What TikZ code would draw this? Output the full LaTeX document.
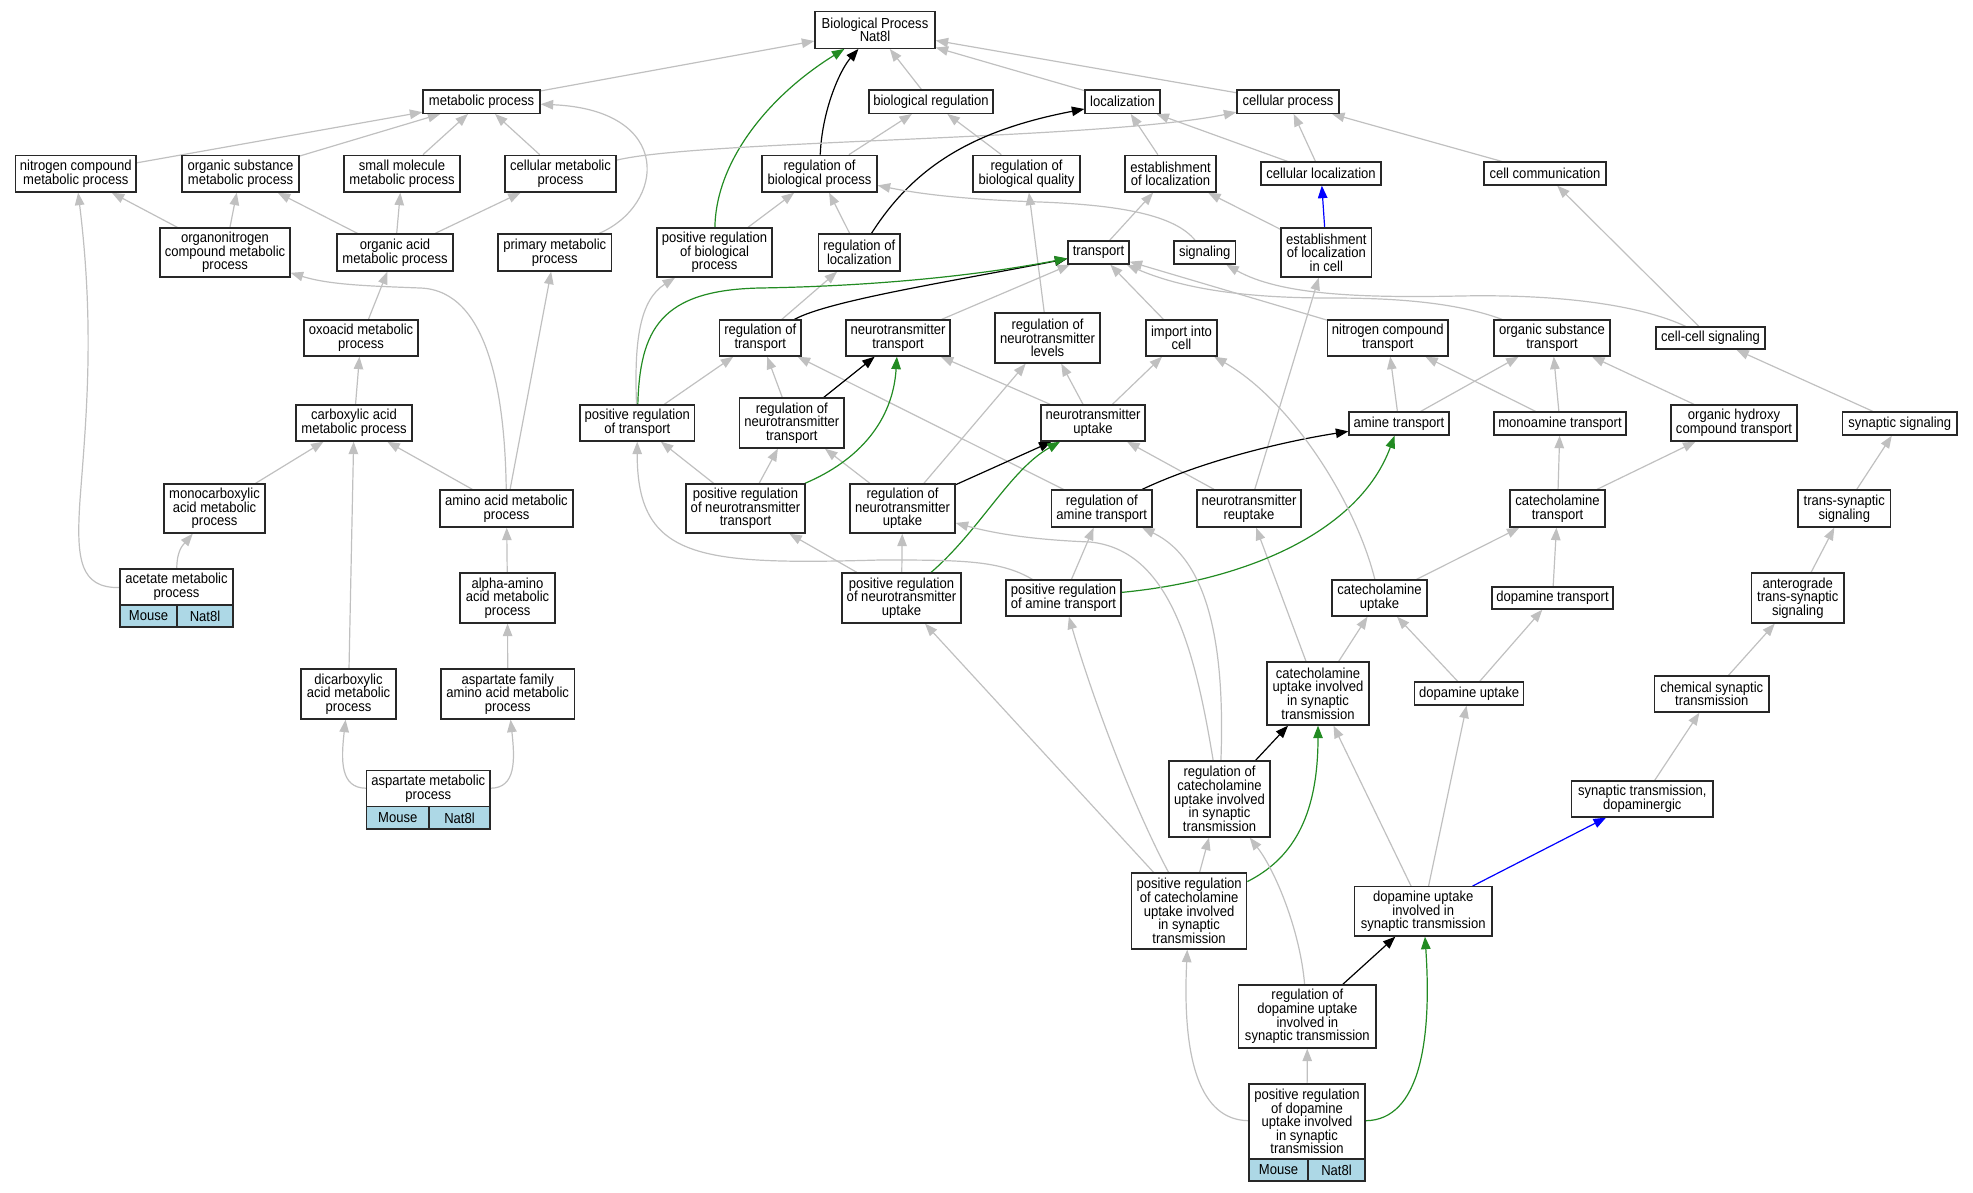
\documentclass[tikz,border=0pt]{standalone}
\usepackage{fontspec}
\setmainfont{Liberation Sans}[FakeStretch=0.9]
\usetikzlibrary{arrows.meta,backgrounds}
\definecolor{eg}{RGB}{192,192,192}
\definecolor{fg}{RGB}{34,139,34}
\definecolor{lb}{RGB}{173,216,230}
\definecolor{bd}{RGB}{40,40,40}
\newcommand\pbox[7]{%
 \pgfmathsetmacro\bxw{#5-#3}%
 \pgfmathsetmacro\bxh{#6-#4}%
 \pgfmathsetmacro\bxx{(#3+#5)/2}%
 \pgfmathsetmacro\bxy{(#4+#6)/2}%
 \node[#1,minimum width=\bxw pt,minimum height=\bxh pt] (#2) at (\bxx,\bxy) {#7};}
\tikzset{
 gbox/.style={draw=bd, line width=1.3pt, fill=white, inner sep=0pt, align=center, font=\fontsize{14.5}{13.6}\selectfont},
 mcell/.style={gbox, fill=lb},
 ar/.style={line width=1.2pt, -{Triangle[length=12.5pt,width=9.5pt]}},
 ge/.style={ar, draw=eg},
 ke/.style={ar, draw=black},
 gn/.style={ar, draw=fg},
 be/.style={ar, draw=blue},
}
\begin{document}
\begin{tikzpicture}[x=1pt,y=-1pt]
\useasboundingbox (0,0) rectangle (1973,1192);
\pbox{gbox}{BP}{815}{11.7}{935}{48.3}{Biological Process\\Nat8l}
\pbox{gbox}{meta}{423}{90}{540}{113.3}{metabolic process}
\pbox{gbox}{bioreg}{869}{90}{993}{113.3}{biological regulation}
\pbox{gbox}{loc}{1085}{90}{1160}{113.3}{localization}
\pbox{gbox}{cellproc}{1237}{90}{1339}{113.3}{cellular process}
\pbox{gbox}{ncmp}{15.6}{155.3}{136}{192}{nitrogen compound\\metabolic process}
\pbox{gbox}{osmp}{182}{155.3}{299}{192}{organic substance\\metabolic process}
\pbox{gbox}{smmp}{344}{155.3}{460}{192}{small molecule\\metabolic process}
\pbox{gbox}{cmp}{505}{155.3}{616}{192}{cellular metabolic\\process}
\pbox{gbox}{regbp}{762}{155.3}{877}{192}{regulation of\\biological process}
\pbox{gbox}{regbq}{973}{155.3}{1080}{192}{regulation of\\biological quality}
\pbox{gbox}{estloc}{1125}{155.3}{1216}{192}{establishment\\of localization}
\pbox{gbox}{cellloc}{1261}{162}{1381}{185}{cellular localization}
\pbox{gbox}{cellcomm}{1484}{162}{1606}{185}{cell communication}
\pbox{gbox}{onmp}{160}{228}{290}{277}{organonitrogen\\compound metabolic\\process}
\pbox{gbox}{oamp}{337}{234}{453}{271}{organic acid\\metabolic process}
\pbox{gbox}{pmp}{498}{234}{611.5}{271}{primary metabolic\\process}
\pbox{gbox}{posregbp}{657}{228}{772}{277}{positive regulation\\of biological\\process}
\pbox{gbox}{regloc}{818.6}{234}{900}{271}{regulation of\\localization}
\pbox{gbox}{transport}{1068}{241}{1129}{264}{transport}
\pbox{gbox}{signaling}{1174}{241}{1235.5}{264}{signaling}
\pbox{gbox}{estlocc}{1281}{228}{1371.7}{277}{establishment\\of localization\\in cell}
\pbox{gbox}{oxo}{304}{320}{418}{356}{oxoacid metabolic\\process}
\pbox{gbox}{regtr}{719.5}{320}{801}{356}{regulation of\\transport}
\pbox{gbox}{nttr}{846}{320}{950}{356}{neurotransmitter\\transport}
\pbox{gbox}{regntl}{995}{313}{1100}{363}{regulation of\\neurotransmitter\\levels}
\pbox{gbox}{imp}{1146}{320}{1217}{356}{import into\\cell}
\pbox{gbox}{nctr}{1327.5}{320}{1448}{356}{nitrogen compound\\transport}
\pbox{gbox}{ostr}{1494}{320}{1610}{356}{organic substance\\transport}
\pbox{gbox}{ccsig}{1656}{327}{1765}{349}{cell-cell signaling}
\pbox{gbox}{carbox}{296}{405}{412}{441}{carboxylic acid\\metabolic process}
\pbox{gbox}{posregtr}{580}{405}{694.5}{441}{positive regulation\\of transport}
\pbox{gbox}{regnttr}{739.5}{398}{844}{448}{regulation of\\neurotransmitter\\transport}
\pbox{gbox}{ntup}{1041}{405}{1145}{441}{neurotransmitter\\uptake}
\pbox{gbox}{amtr}{1349}{412}{1449}{435}{amine transport}
\pbox{gbox}{monotr}{1494}{412}{1626}{435}{monoamine transport}
\pbox{gbox}{ohctr}{1671}{405}{1797}{441}{organic hydroxy\\compound transport}
\pbox{gbox}{synsig}{1842.5}{412}{1957}{435}{synaptic signaling}
\pbox{gbox}{monocarb}{164}{484}{265}{533}{monocarboxylic\\acid metabolic\\process}
\pbox{gbox}{aamp}{440}{490}{573}{527}{amino acid metabolic\\process}
\pbox{gbox}{posregnttr}{686}{484}{805}{533}{positive regulation\\of neurotransmitter\\transport}
\pbox{gbox}{regntup}{850}{484}{955}{533}{regulation of\\neurotransmitter\\uptake}
\pbox{gbox}{regamtr}{1051.6}{490}{1152}{527}{regulation of\\amine transport}
\pbox{gbox}{ntreup}{1197}{490}{1301}{527}{neurotransmitter\\reuptake}
\pbox{gbox}{cattr}{1510}{490}{1605}{527}{catecholamine\\transport}
\pbox{gbox}{tss}{1798}{490}{1890.5}{527}{trans-synaptic\\signaling}
\pbox{gbox}{acetate}{120}{569}{233}{605}{acetate metabolic\\process}
\pbox{mcell}{acetateM}{120}{605}{177}{627}{Mouse}
\pbox{mcell}{acetateN}{177}{605}{233}{627}{Nat8l}
\pbox{gbox}{alpha}{460}{573}{555}{623}{alpha-amino\\acid metabolic\\process}
\pbox{gbox}{posregntup}{842}{573}{961}{623}{positive regulation\\of neurotransmitter\\uptake}
\pbox{gbox}{posregamtr}{1006}{580}{1121}{616}{positive regulation\\of amine transport}
\pbox{gbox}{catup}{1332}{580}{1427}{616}{catecholamine\\uptake}
\pbox{gbox}{doptr}{1492}{587}{1613}{609}{dopamine transport}
\pbox{gbox}{antero}{1751.5}{573}{1844}{623}{anterograde\\trans-synaptic\\signaling}
\pbox{gbox}{dicarb}{301}{669}{396}{719}{dicarboxylic\\acid metabolic\\process}
\pbox{gbox}{aspfam}{441}{669}{574.5}{719}{aspartate family\\amino acid metabolic\\process}
\pbox{gbox}{cuist}{1267}{662}{1369}{725}{catecholamine\\uptake involved\\in synaptic\\transmission}
\pbox{gbox}{dopup}{1414.6}{682}{1523.6}{705}{dopamine uptake}
\pbox{gbox}{chemsyn}{1654.5}{676}{1769}{712}{chemical synaptic\\transmission}
\pbox{gbox}{asp}{366.6}{770.7}{490}{806.7}{aspartate metabolic\\process}
\pbox{mcell}{aspM}{366.6}{806.7}{429}{829}{Mouse}
\pbox{mcell}{aspN}{429}{806.7}{490}{829}{Nat8l}
\pbox{gbox}{regcat}{1169}{761}{1270}{837}{regulation of\\catecholamine\\uptake involved\\in synaptic\\transmission}
\pbox{gbox}{stdop}{1571.7}{781}{1713}{817}{synaptic transmission,\\dopaminergic}
\pbox{gbox}{posregcat}{1131.5}{873}{1246.7}{949}{positive regulation\\of catecholamine\\uptake involved\\in synaptic\\transmission}
\pbox{gbox}{duist}{1354.5}{886.7}{1492}{936}{dopamine uptake\\involved in\\synaptic transmission}
\pbox{gbox}{regdop}{1238.7}{985}{1376}{1048}{regulation of\\dopamine uptake\\involved in\\synaptic transmission}
\pbox{gbox}{posregdop}{1249}{1084}{1365}{1159}{positive regulation\\of dopamine\\uptake involved\\in synaptic\\transmission}
\pbox{mcell}{posregdopM}{1249}{1159}{1308}{1181}{Mouse}
\pbox{mcell}{posregdopN}{1308}{1159}{1365}{1181}{Nat8l}
\begin{pgfonlayer}{background}
\foreach \a/\b in {meta/BP, bioreg/BP, loc/BP, cellproc/BP, ncmp/meta, osmp/meta, smmp/meta, cmp/meta,
 regbp/bioreg, regbq/bioreg, estloc/loc, cellloc/loc, cellloc/cellproc, cellcomm/cellproc,
 onmp/ncmp, onmp/osmp, oamp/osmp, oamp/smmp, oamp/cmp, posregbp/regbp, regloc/regbp,
 transport/estloc, estlocc/estloc, regntl/regbq, ccsig/cellcomm, oxo/oamp, regtr/regloc,
 nttr/transport, imp/transport, nctr/transport, carbox/oxo, posregtr/regtr, regnttr/regtr,
 regamtr/regtr, ntup/nttr, regntup/regntl, ntup/regntl, ntup/imp, amtr/nctr, amtr/ostr,
 monotr/nctr, monotr/ostr, ohctr/ostr, synsig/ccsig, monocarb/carbox, dicarb/carbox,
 aamp/carbox, aamp/pmp, posregnttr/posregtr, posregnttr/regnttr, regntup/regnttr,
 ntreup/ntup, ntreup/estlocc, cattr/monotr, cattr/ohctr, tss/synsig, alpha/aamp,
 posregntup/posregnttr, posregntup/regntup, posregamtr/regamtr, catup/cattr, doptr/cattr,
 antero/tss, aspfam/alpha, cuist/ntreup, cuist/catup, dopup/catup, dopup/doptr,
 chemsyn/antero, stdop/chemsyn, posregcat/posregntup, posregcat/regcat, duist/cuist,
 duist/dopup, posregdop/regdop}
 \draw[ge] (\a) -- (\b);
\foreach \a/\b in {regnttr/nttr, regntup/ntup, regcat/cuist, regdop/duist}
 \draw[ke] (\a) -- (\b);
\draw[be] (estlocc) -- (cellloc);
\draw[be] (duist) -- (stdop);
\draw[gn] (posregbp) .. controls (716,160) and (770,95) .. (BP);
\draw[ke] (regbp) .. controls (822,110) and (840,70) .. (BP);
\draw[ge] (pmp) .. controls (665,205) and (675,110) .. (meta);
\draw[ge] (acetate) .. controls (80,588) and (76,560) .. (80,500) .. controls (86,420) and (95,330) .. (ncmp);
\draw[ge] (aamp) .. controls (505,400) and (490,290) .. (420,288) .. controls (370,286) and (330,285) .. (onmp);
\draw[ge] (cmp) .. controls (700,140) and (1100,140) .. (cellproc);
\draw[ke] (regloc) .. controls (915,165) and (975,130) .. (loc);
\draw[ge] (signaling) .. controls (1175,215) and (1120,205) .. (1040,202) .. controls (980,200) and (930,196) .. (regbp);
\draw[ge] (ccsig) .. controls (1640,305) and (1560,294) .. (1460,296) .. controls (1360,298) and (1280,295) .. (signaling);
\draw[ge] (ostr) .. controls (1450,300) and (1380,298) .. (1330,298) .. controls (1260,298) and (1190,292) .. (transport);
\draw[ke] (regtr) .. controls (830,300) and (960,280) .. (transport);
\draw[gn] (posregtr) .. controls (640,330) and (660,290) .. (760,288) .. controls (880,286) and (980,275) .. (transport);
\draw[ge] (posregtr) .. controls (634,340) and (640,300) .. (posregbp);
\draw[gn] (posregnttr) .. controls (860,460) and (893,420) .. (nttr);
\draw[gn] (posregntup) .. controls (980,530) and (1010,470) .. (ntup);
\draw[ke] (regamtr) .. controls (1200,462) and (1280,442) .. (amtr);
\draw[gn] (posregamtr) .. controls (1250,580) and (1360,530) .. (amtr);
\draw[ge] (posregamtr) .. controls (1000,560) and (960,560) .. (880,560) .. controls (700,565) and (637,560) .. (posregtr);
\draw[ge] (regcat) .. controls (1195,650) and (1170,550) .. (1090,542) .. controls (1040,540) and (1000,535) .. (regntup);
\draw[ge] (regcat) .. controls (1225,650) and (1210,560) .. (regamtr);
\draw[ge] (posregcat) .. controls (1130,800) and (1090,690) .. (posregamtr);
\draw[gn] (posregcat) .. controls (1290,860) and (1318,820) .. (cuist);
\draw[ge] (regdop) .. controls (1300,930) and (1275,870) .. (regcat);
\draw[ge] (posregdop) .. controls (1200,1120) and (1182,1060) .. (posregcat);
\draw[gn] (posregdop) .. controls (1420,1120) and (1432,1040) .. (duist);
\draw[ge] (asp) .. controls (340,788) and (341,760) .. (dicarb);
\draw[ge] (asp) .. controls (516,788) and (515,760) .. (aspfam);
\draw[ge] (acetate) .. controls (177,550) and (183,545) .. (monocarb);
\draw[ge] (catup) .. controls (1355,500) and (1290,400) .. (imp);
\end{pgfonlayer}
\end{tikzpicture}
\end{document}
